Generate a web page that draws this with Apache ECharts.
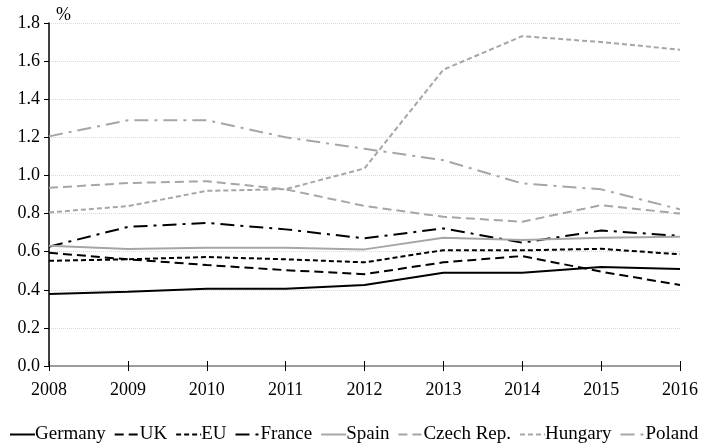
<!DOCTYPE html>
<html><head><meta charset="utf-8">
<script src="https://cdn.jsdelivr.net/npm/echarts@6/dist/echarts.min.js"></script>
<style>html,body{margin:0;padding:0;background:#fff}#c{width:702px;height:444px}</style>
</head><body><div id="c"></div>
<script>
const years = ['2008','2009','2010','2011','2012','2013','2014','2015','2016'];
const germany = [0.378,0.39,0.405,0.405,0.425,0.489,0.489,0.52,0.509];
const uk      = [0.594,0.56,0.53,0.503,0.482,0.544,0.577,0.495,0.425];
const eu      = [0.552,0.56,0.572,0.56,0.544,0.608,0.607,0.615,0.586];
const france  = [0.626,0.73,0.751,0.717,0.67,0.722,0.647,0.711,0.683];
const spain   = [0.631,0.614,0.62,0.62,0.612,0.673,0.661,0.673,0.678];
const czech   = [0.935,0.96,0.97,0.927,0.84,0.783,0.757,0.844,0.80];
const hungary = [0.806,0.839,0.919,0.928,1.037,1.555,1.731,1.70,1.66];
const poland  = [1.205,1.29,1.29,1.20,1.14,1.08,0.958,0.927,0.822];

const BLACK = '#000000', GRAY = '#a6a6a6';
const FONT = 'Liberation Serif';
function s(name, data, color, type){
  return {name, type:'line', data, symbol:'none', smooth:false, xAxisIndex:0,
    lineStyle:{color, width:2, type}, itemStyle:{color}};
}
const chart = echarts.init(document.getElementById('c'));
chart.setOption({
  animation:false,
  textStyle:{fontFamily:FONT},
  grid:{left:49,right:22,top:23,bottom:78},
  xAxis:[{type:'category', data:years, boundaryGap:false,
    axisLine:{lineStyle:{color:'#808080',width:1.5}},
    axisTick:{show:true, length:5, inside:false, lineStyle:{color:'#000'}},
    axisLabel:{color:'#000', fontSize:18, fontFamily:FONT, margin:15},
    splitLine:{show:false}},
   {type:'category', data:years, boundaryGap:false, position:'bottom',
    axisLine:{show:false},
    axisTick:{show:true, length:5, inside:true, lineStyle:{color:'#000'}},
    axisLabel:{show:false}, splitLine:{show:false}}],
  yAxis:{type:'value', min:0, max:1.8, interval:0.2,
    axisLine:{show:true, lineStyle:{color:'#000',width:1.5}},
    axisTick:{show:true, length:5, lineStyle:{color:'#000'}},
    axisLabel:{color:'#000', fontSize:18, fontFamily:FONT, margin:9,
      formatter:v=>v.toFixed(1)},
    splitLine:{show:true, lineStyle:{color:'#d9d9d9', type:'dotted', width:1}}},
  graphic:[{type:'text', left:56, top:6, style:{text:'%', fontSize:18, fontFamily:FONT, fill:'#000'}}],
  legend:{top:425, left:9, padding:0, itemWidth:25, itemHeight:10, itemGap:8,
    itemStyle:{opacity:0},
    textStyle:{fontSize:19, fontFamily:FONT, color:'#000', padding:[0,0,0,-5]},
    data:['Germany','UK','EU','France','Spain','Czech Rep.','Hungary','Poland']},
  series:[
    s('Germany', germany, BLACK, 'solid'),
    s('UK', uk, BLACK, [9,5]),
    s('EU', eu, BLACK, [5,3]),
    s('France', france, BLACK, [14,6,3,6]),
    s('Spain', spain, GRAY, 'solid'),
    s('Czech Rep.', czech, GRAY, [9,5]),
    s('Hungary', hungary, GRAY, [5,3]),
    s('Poland', poland, GRAY, [14,6,3,6])
  ]
});
</script></body></html>
